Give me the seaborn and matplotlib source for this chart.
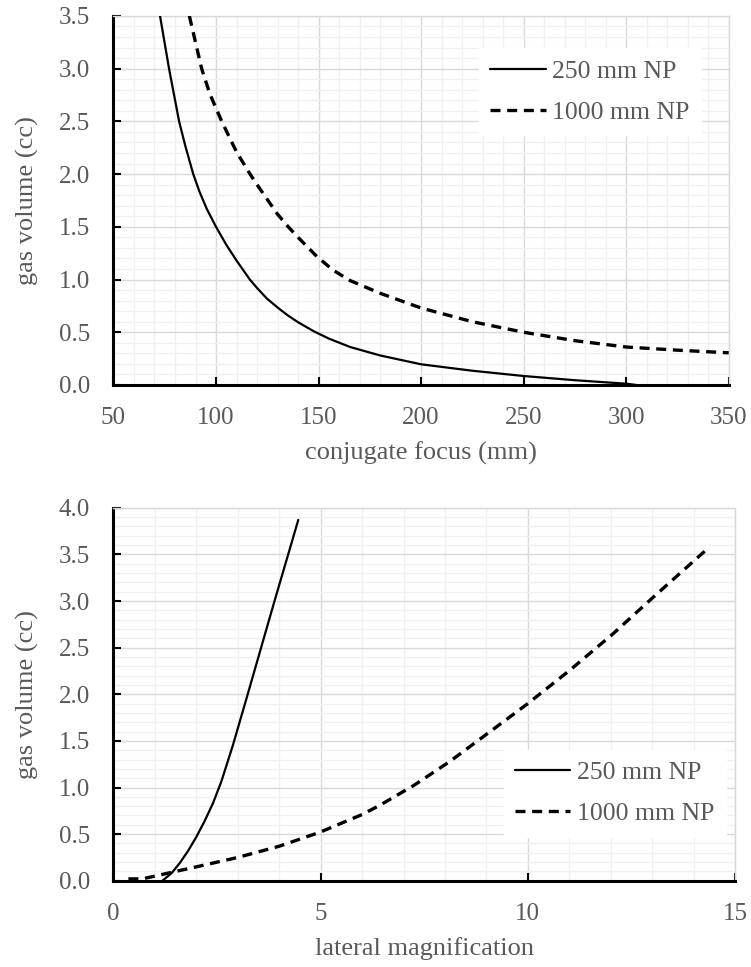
import numpy as np
import pandas as pd
import matplotlib
matplotlib.use("Agg")
import matplotlib.pyplot as plt
from matplotlib.ticker import MultipleLocator, FormatStrFormatter
import seaborn as sns

# ---- data ----
focus_250 = [72.7, 77.1, 82.0, 85.0, 88.9, 92.0, 95.5, 100, 105, 110, 116.5, 120, 124.8,
             130, 135, 140, 147.6, 155, 165.4, 180, 200, 225, 250, 275, 300, 305]
vol_f_250 = [3.5, 3.0, 2.5, 2.27, 2.0, 1.83, 1.67, 1.5, 1.33, 1.18, 1.0, 0.92, 0.82,
             0.735, 0.66, 0.595, 0.51, 0.44, 0.36, 0.28, 0.196, 0.135, 0.085, 0.045, 0.012, 0.0]
focus_1000 = [87.0, 90, 93.0, 97, 102.8, 110, 116.6, 120, 125, 130, 135, 140, 149.1, 157, 165.4,
              180, 200, 225, 250, 275, 300, 325, 350]
vol_f_1000 = [3.5, 3.25, 3.0, 2.76, 2.5, 2.21, 2.0, 1.9, 1.76, 1.62, 1.505, 1.40, 1.22, 1.09, 0.99,
              0.87, 0.73, 0.60, 0.50, 0.42, 0.36, 0.33, 0.305]

mag_250 = [1.18, 1.4, 1.6, 1.8, 2.0, 2.2, 2.4, 2.6, 2.88, 3.22, 3.55, 3.88, 4.21, 4.46]
vol_m_250 = [0.0, 0.08, 0.19, 0.32, 0.47, 0.64, 0.83, 1.06, 1.45, 1.97, 2.48, 2.99, 3.49, 3.87]
mag_1000 = [0.36, 0.7, 1.0, 1.5, 2.01, 3.0, 4.0, 4.98, 6.0, 6.43, 7.24, 8.12, 9.0, 9.97, 11.02, 12.06, 13.1, 14.36]
vol_m_1000 = [0.02, 0.02, 0.05, 0.1, 0.15, 0.25, 0.37, 0.52, 0.71, 0.81, 1.02, 1.28, 1.57, 1.89, 2.26, 2.65, 3.07, 3.57]

labels = ["250 mm NP", "1000 mm NP"]

sns.set_theme(style="white")
plt.rcParams['font.family'] = ['Liberation Serif', 'DejaVu Serif']
plt.rcParams['font.size'] = 18

GREY_TXT = "#595959"
MAJ = "#d9d9d9"
MIN = "#f0f0f0"

fig = plt.figure(figsize=(7.51, 9.67), dpi=100)
ax1 = fig.add_axes([0.1511, 0.6019, 0.8192, 0.3816])
ax2 = fig.add_axes([0.1511, 0.0892, 0.8276, 0.3857])

def style_axes(ax, xmaj, xmin, ymaj, ymin):
    ax.xaxis.set_major_locator(MultipleLocator(xmaj))
    ax.xaxis.set_minor_locator(MultipleLocator(xmin))
    ax.yaxis.set_major_locator(MultipleLocator(ymaj))
    ax.yaxis.set_minor_locator(MultipleLocator(ymin))
    ax.grid(which="minor", color=MIN, lw=1.0, zorder=0)
    ax.grid(which="major", color=MAJ, lw=1.0, zorder=0)
    ax.set_axisbelow(True)
    for s in ["left", "bottom"]:
        ax.spines[s].set_color("black")
        ax.spines[s].set_linewidth(2.2)
        ax.spines[s].set_visible(True)
    for s in ["top", "right"]:
        ax.spines[s].set_color(MAJ)
        ax.spines[s].set_linewidth(1.0)
        ax.spines[s].set_visible(True)
    ax.tick_params(which="major", direction="in", length=6, width=1.5, color="black",
                   labelsize=18, labelcolor=GREY_TXT, left=True, bottom=True)
    ax.tick_params(axis="x", which="major", pad=16)
    ax.tick_params(axis="y", which="major", pad=17)
    ax.tick_params(which="minor", length=0)
    ax.yaxis.set_major_formatter(FormatStrFormatter("%.1f"))

def draw(ax, x1, y1, x2, y2):
    d1 = pd.DataFrame({"x": x1, "y": y1})
    d2 = pd.DataFrame({"x": x2, "y": y2})
    sns.lineplot(data=d1, x="x", y="y", ax=ax, color="black", lw=1.6,
                 estimator=None, label=labels[0], zorder=3)
    sns.lineplot(data=d2, x="x", y="y", ax=ax, color="black", lw=2.4,
                 estimator=None, label=labels[1], zorder=3)
    ax.lines[-1].set_linestyle((0, (3.0, 2.0)))
    for ln in ax.lines:
        ln.set_solid_joinstyle("round")
        ln.set_dash_joinstyle("round")

draw(ax1, focus_250, vol_f_250, focus_1000, vol_f_1000)
ax1.set_xlim(50, 350)
ax1.set_ylim(0, 3.5)
style_axes(ax1, 50, 10, 0.5, 0.1)
ax1.set_xlabel("conjugate focus (mm)", color=GREY_TXT, fontsize=19, labelpad=9)
ax1.set_ylabel("gas volume (cc)", color=GREY_TXT, fontsize=19, labelpad=14)

draw(ax2, mag_250, vol_m_250, mag_1000, vol_m_1000)
ax2.set_xlim(0, 15)
ax2.set_ylim(0, 4.0)
style_axes(ax2, 5, 1, 0.5, 0.1)
ax2.xaxis.set_major_formatter(FormatStrFormatter("%d"))
ax2.set_xlabel("lateral magnification", color=GREY_TXT, fontsize=19, labelpad=9)
ax2.set_ylabel("gas volume (cc)", color=GREY_TXT, fontsize=19, labelpad=14)

for ax, loc, anchor in [(ax1, "upper right", (0.955, 0.913)), (ax2, "lower right", (0.985, 0.118))]:
    leg = ax.legend(loc=loc, bbox_to_anchor=anchor, borderaxespad=0, frameon=True,
                    fancybox=False, framealpha=1, edgecolor="white", fontsize=18.5,
                    handlelength=2.15, handletextpad=0.25, labelspacing=0.7, borderpad=0.45)
    for t in leg.get_texts():
        t.set_color(GREY_TXT)

fig.savefig("out.png", dpi=100)
